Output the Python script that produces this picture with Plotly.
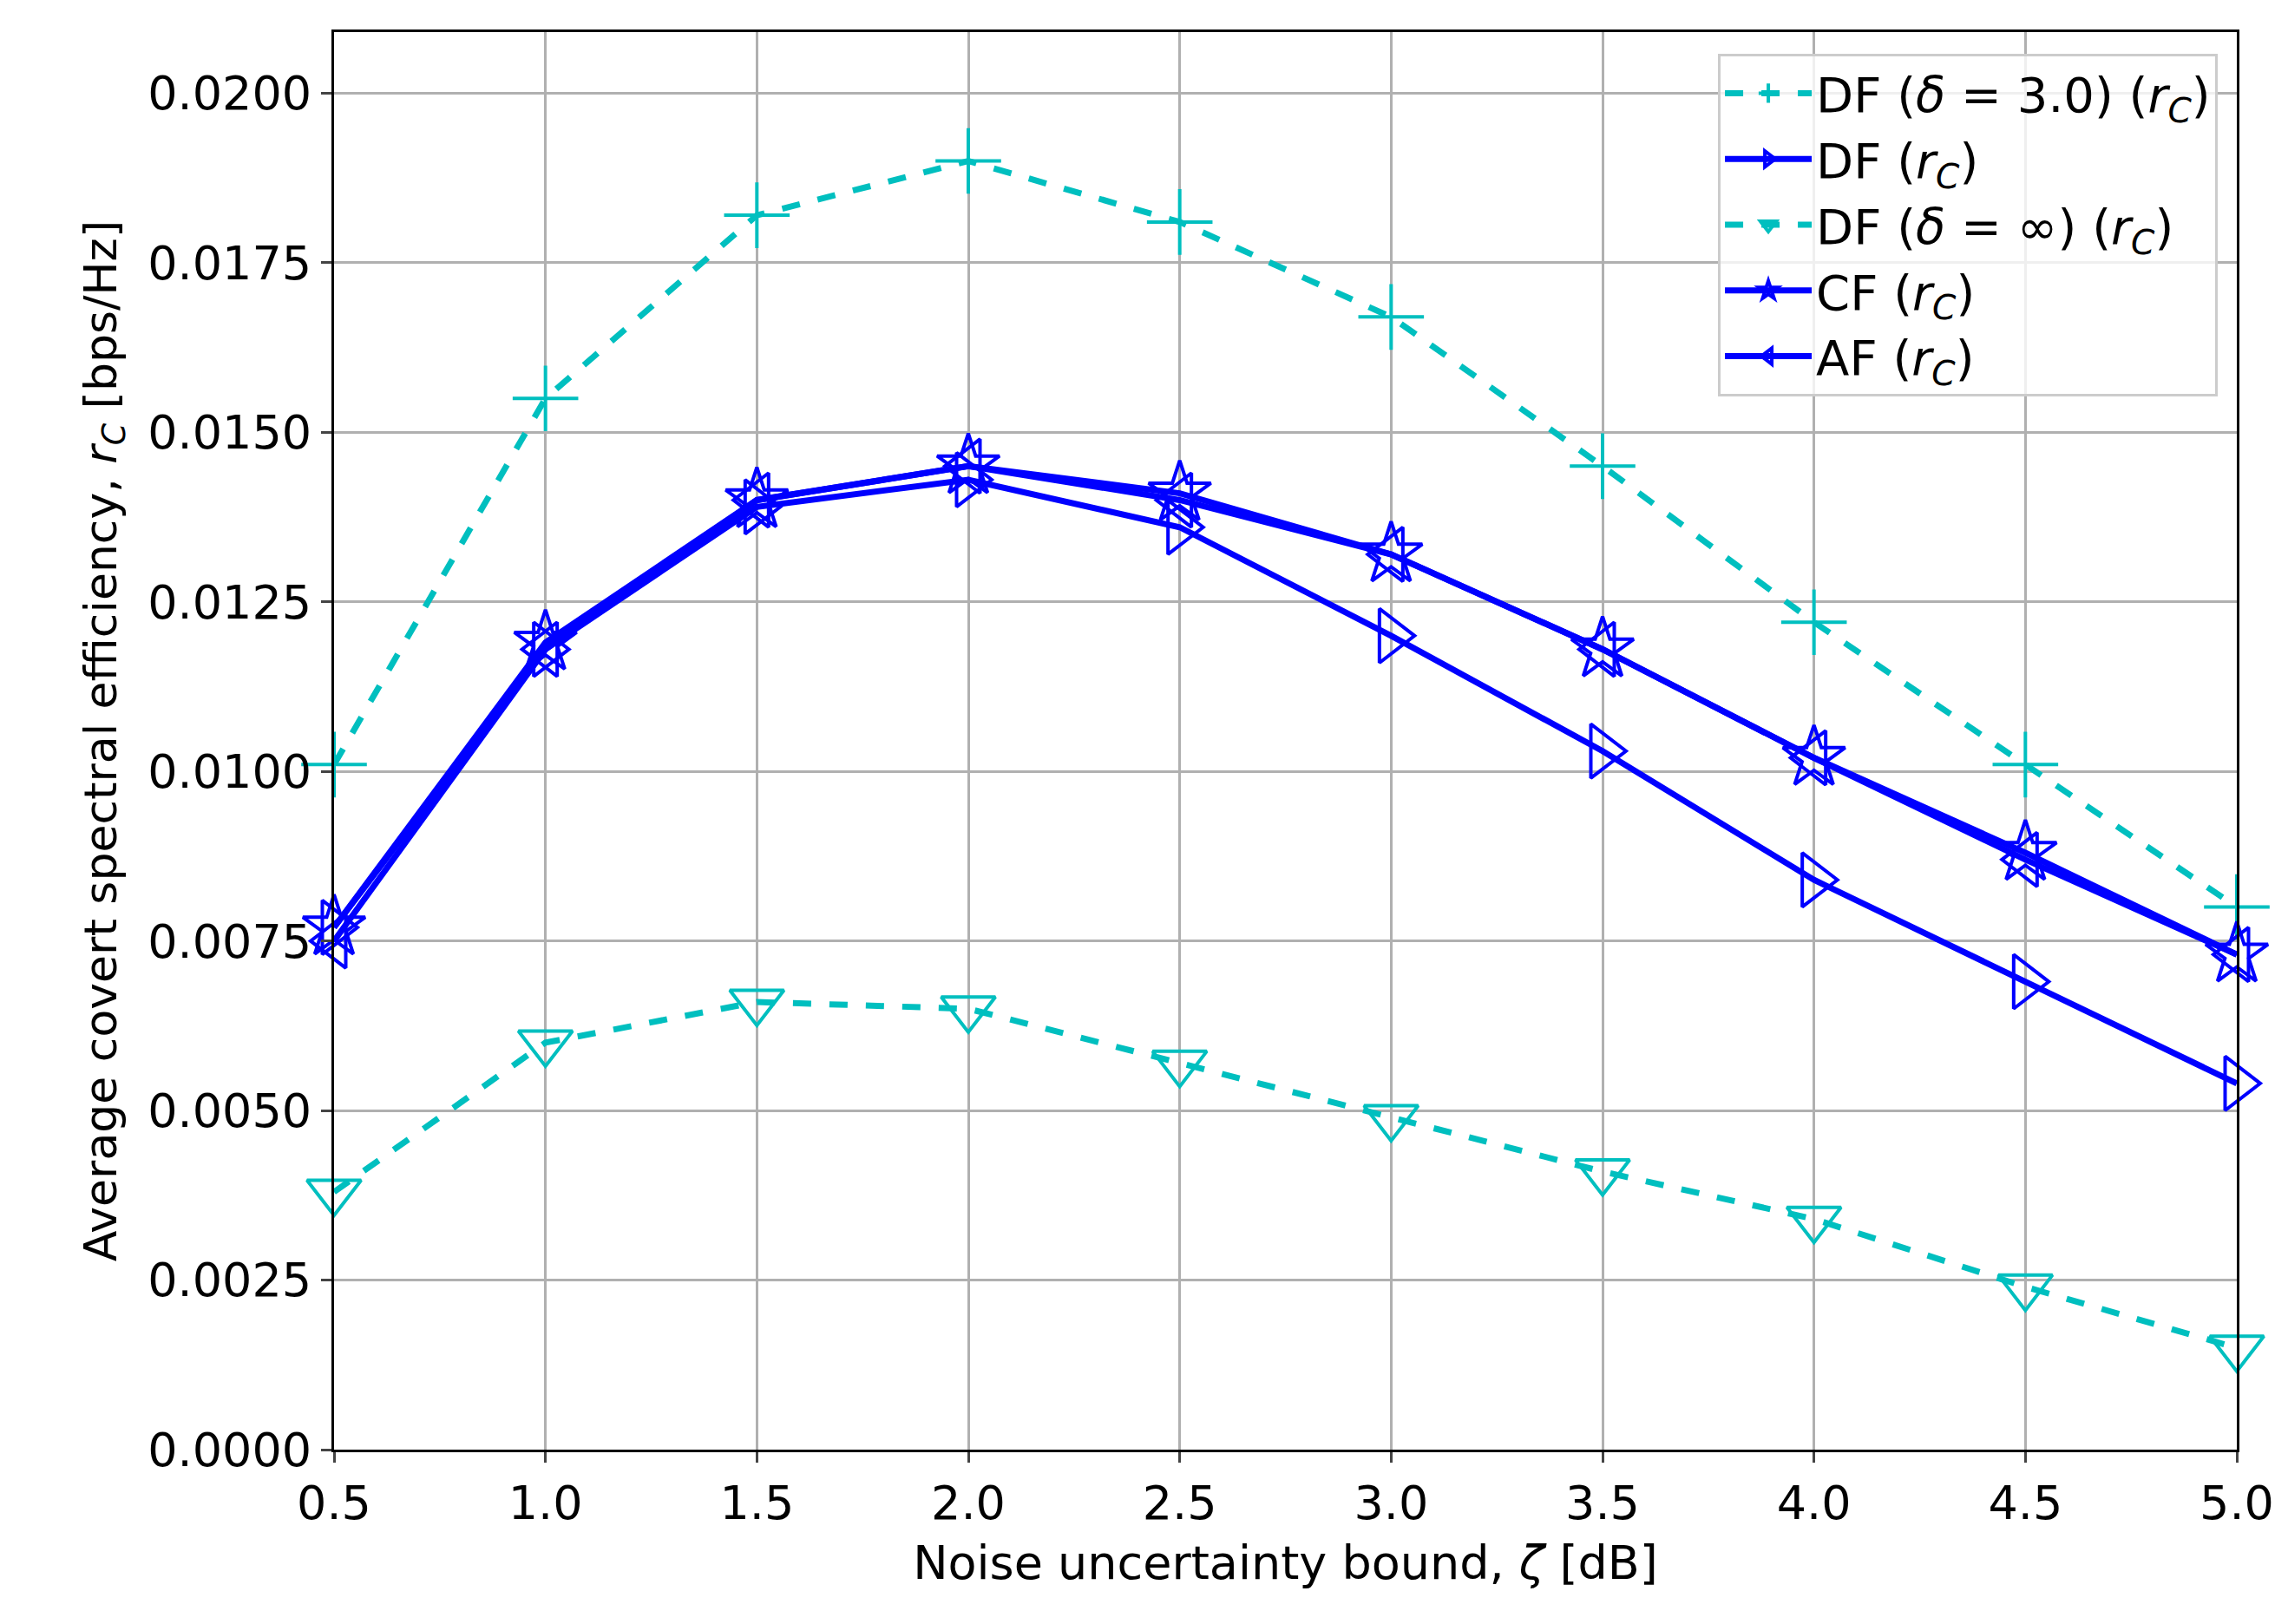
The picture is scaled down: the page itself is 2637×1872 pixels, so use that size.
import plotly.graph_objects as go

x = [0.5, 1.0, 1.5, 2.0, 2.5, 3.0, 3.5, 4.0, 4.5, 5.0]
df_delta3 = [0.0101, 0.0155, 0.0182, 0.0190, 0.0181, 0.0167, 0.0145, 0.0122, 0.0101, 0.0080]
df_rc = [0.0077, 0.0118, 0.0139, 0.0143, 0.0136, 0.0120, 0.0103, 0.0084, 0.0069, 0.0054]
df_inf = [0.0038, 0.0060, 0.0066, 0.0065, 0.0057, 0.0049, 0.0041, 0.0034, 0.0024, 0.0015]
cf_rc = [0.0077, 0.0119, 0.0140, 0.0145, 0.0141, 0.0132, 0.0118, 0.0102, 0.0088, 0.0073]
af_rc = [0.0075, 0.0118, 0.0140, 0.0145, 0.0140, 0.0132, 0.0118, 0.0102, 0.0087, 0.0073]

rc = "(<i>r<sub>C</sub></i>)"
series = [
    ("DF (<i>δ</i> = 3.0) " + rc, df_delta3, "#00BFBF", "dash", "cross-thin-open"),
    ("DF " + rc, df_rc, "#0000FF", "solid", "triangle-right-open"),
    ("DF (<i>δ</i> = ∞) " + rc, df_inf, "#00BFBF", "dash", "triangle-down-open"),
    ("CF " + rc, cf_rc, "#0000FF", "solid", "star-open"),
    ("AF " + rc, af_rc, "#0000FF", "solid", "triangle-left-open"),
]

fig = go.Figure()
for name, y, c, d, s in series:
    fig.add_trace(go.Scatter(
        x=x, y=y, name=name, mode="lines+markers", cliponaxis=False,
        line=dict(color=c, width=7, dash=d),
        marker=dict(symbol=s, size=54, color=c, line=dict(color=c, width=4)),
    ))

ax = dict(showline=True, linecolor="black", linewidth=3, mirror=True,
          showgrid=True, gridcolor="#b0b0b0", gridwidth=3, ticks="outside",
          ticklen=12, tickwidth=3, zeroline=False,
          tickfont=dict(size=54, color="black"))
fig.update_layout(
    width=2637, height=1872, plot_bgcolor="white", paper_bgcolor="white",
    font=dict(family="DejaVu Sans", size=54, color="black"),
    margin=dict(l=377, r=67, t=29, b=209),
    xaxis=dict(ax, range=[0.5, 5.0], tickvals=x, ticktext=[f"{v:.1f}" for v in x],
               title=dict(text="Noise uncertainty bound, <i>ζ</i> [dB]", font=dict(size=54), standoff=20)),
    yaxis=dict(ax, range=[0, 0.0209], tickvals=[i * 0.0025 for i in range(9)],
               tickformat=".4f",
               title=dict(text="Average covert spectral efficiency, <i>r<sub>C</sub></i> [bps/Hz]",
                          font=dict(size=52), standoff=20)),
    legend=dict(x=0.99, y=0.985, xanchor="right", yanchor="top",
                bgcolor="rgba(255,255,255,0.8)", bordercolor="#cccccc", borderwidth=3,
                font=dict(size=56), itemwidth=100, tracegroupgap=10),
)
fig.write_html("out.html")
